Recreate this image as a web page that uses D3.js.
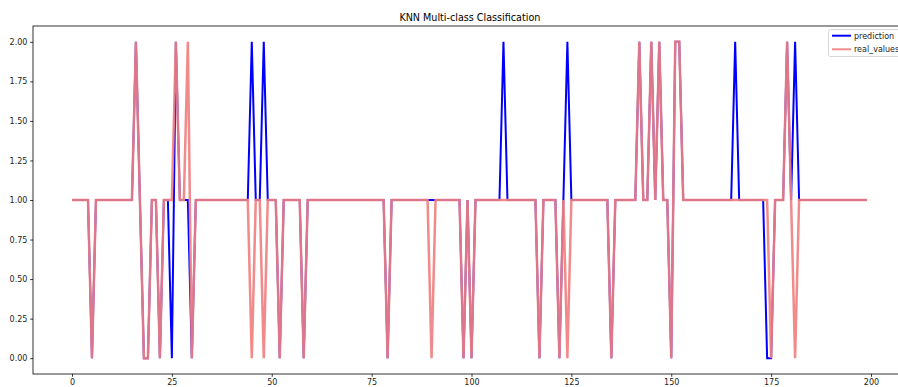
<!DOCTYPE html>
<html>
<head>
<meta charset="utf-8">
<script src="https://cdn.jsdelivr.net/npm/d3@7"></script>
<style>
  html, body { margin: 0; padding: 0; background: #fff; overflow: hidden; }
  svg { display: block; font-family: "DejaVu Sans", sans-serif; }
</style>
</head>
<body>
<svg id="chart" width="898" height="387"></svg>
<script>
const title = "KNN Multi-class Classification";
const seriesNames = ["prediction", "real_values"];
const xTicks = [0, 25, 50, 75, 100, 125, 150, 175, 200];
const yTicks = [0, 0.25, 0.5, 0.75, 1, 1.25, 1.5, 1.75, 2];

const prediction = [
  1,1,1,1,1,0,1,1,1,1,1,1,1,1,1,1,2,1,0,0,
  1,1,0,1,1,0,2,1,1,1,0,1,1,1,1,1,1,1,1,1,
  1,1,1,1,1,2,1,1,2,1,1,1,0,1,1,1,1,1,0,1,
  1,1,1,1,1,1,1,1,1,1,1,1,1,1,1,1,1,1,1,0,
  1,1,1,1,1,1,1,1,1,1,1,1,1,1,1,1,1,1,0,1,
  0,1,1,1,1,1,1,1,2,1,1,1,1,1,1,1,1,0,1,1,
  1,1,0,1,2,1,1,1,1,1,1,1,1,1,1,0,1,1,1,1,
  1,1,2,1,1,2,1,2,1,1,0,2,2,1,1,1,1,1,1,1,
  1,1,1,1,1,1,2,1,1,1,1,1,1,1,0,0,1,1,1,2,
  1,2,1,1,1,1,1,1,1,1,1,1,1,1,1,1,1,1,1,1
];

const realValues = [
  1,1,1,1,1,0,1,1,1,1,1,1,1,1,1,1,2,1,0,0,
  1,1,0,1,1,1,2,1,1,2,0,1,1,1,1,1,1,1,1,1,
  1,1,1,1,1,0,1,1,0,1,1,1,0,1,1,1,1,1,0,1,
  1,1,1,1,1,1,1,1,1,1,1,1,1,1,1,1,1,1,1,0,
  1,1,1,1,1,1,1,1,1,1,0,1,1,1,1,1,1,1,0,1,
  0,1,1,1,1,1,1,1,1,1,1,1,1,1,1,1,1,0,1,1,
  1,1,0,1,0,1,1,1,1,1,1,1,1,1,1,0,1,1,1,1,
  1,1,2,1,1,2,1,2,1,1,0,2,2,1,1,1,1,1,1,1,
  1,1,1,1,1,1,1,1,1,1,1,1,1,1,1,0,1,1,1,2,
  1,0,1,1,1,1,1,1,1,1,1,1,1,1,1,1,1,1,1,1
];

(function () {
const svg = d3.select("#chart");
const pLeft = 33, pTop = 26, pBottom = 374;
const n = prediction.length;
const xMax = (n - 1) * 1.05;
const x = d3.scaleLinear().domain([0, 200]).range([72, 871]);
const pRight = x(xMax);
const y = d3.scaleLinear().domain([-0.1, 2.1]).range([pBottom, pTop]);

const g = svg.append("g");

svg.append("defs").append("clipPath").attr("id", "clip")
  .append("rect").attr("x", pLeft).attr("y", pTop).attr("width", pRight - pLeft).attr("height", pBottom - pTop);

const line = d3.line().x((d, i) => x(i)).y(d => y(d));

const plot = g.append("g").attr("clip-path", "url(#clip)");
plot.append("path").datum(prediction)
  .attr("d", line).attr("fill", "none")
  .attr("stroke", "#0000ff").attr("stroke-width", 2);
plot.append("path").datum(realValues)
  .attr("d", line).attr("fill", "none")
  .attr("stroke", "#f08080").attr("stroke-opacity", 0.92).attr("stroke-width", 2.5);

const xAxis = d3.axisBottom(x).tickValues(xTicks).tickSize(2.8).tickPadding(2.8).tickFormat(d3.format("d"));
const yAxis = d3.axisLeft(y).tickValues(yTicks).tickSize(2.8).tickPadding(2.8).tickFormat(d3.format(".2f"));

const gx = g.append("g").attr("transform", `translate(0,${pBottom})`).call(xAxis);
const gy = g.append("g").attr("transform", `translate(${pLeft},0)`).call(yAxis);
[gx, gy].forEach(a => {
  a.select(".domain").remove();
  a.selectAll(".tick line").attr("stroke", "#000").attr("stroke-width", 0.8);
  a.selectAll(".tick text").attr("fill", "#222").style("font-size", "8px").style("font-family", "DejaVu Sans");
});

g.append("rect").attr("x", pLeft).attr("y", pTop).attr("width", pRight - pLeft).attr("height", pBottom - pTop)
  .attr("fill", "none").attr("stroke", "#000").attr("stroke-width", 0.8);

g.append("text").attr("x", (pLeft + pRight) / 2).attr("y", pTop - 5)
  .attr("text-anchor", "middle").style("font-size", "9.6px").attr("fill", "#000")
  .text(title);

const lg = g.append("g");
lg.append("rect").attr("x", 828.5).attr("y", 29.5).attr("width", 90).attr("height", 27)
  .attr("rx", 2).attr("fill", "#fff").attr("fill-opacity", 0.8)
  .attr("stroke", "#cccccc").attr("stroke-width", 0.8);
const colors = ["#0000ff", "#f08080"];
seriesNames.forEach((name, i) => {
  const yy = 35.7 + i * 13.6;
  lg.append("line").attr("x1", 832).attr("x2", 851).attr("y1", yy).attr("y2", yy)
    .attr("stroke", colors[i]).attr("stroke-width", 2).attr("stroke-opacity", i ? 0.92 : 1);
  lg.append("text").attr("x", 854).attr("y", yy + 3)
    .style("font-size", "8px").attr("fill", "#222").text(name);
});
})();
</script>
</body>
</html>
